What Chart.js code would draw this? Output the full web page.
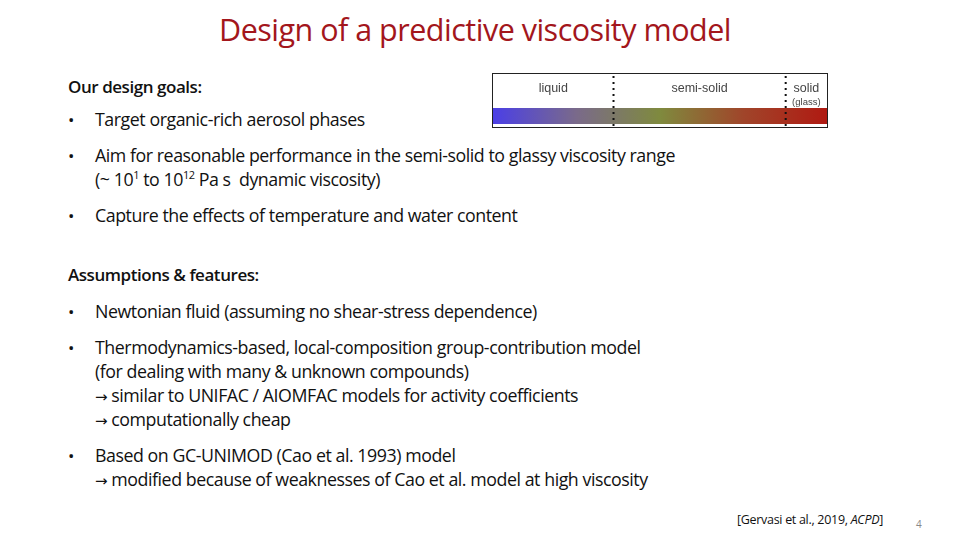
<!DOCTYPE html>
<html><head><meta charset="utf-8">
<script src="https://cdn.jsdelivr.net/npm/chart.js@4/dist/chart.umd.min.js"></script>
<style>
body{margin:0;width:960px;height:540px;background:#fff;font-family:"Open Sans",sans-serif;color:#111;position:relative;overflow:hidden}
.t{position:absolute;white-space:nowrap;font-size:17.8px;letter-spacing:-0.45px}
.b{position:absolute;left:68px;font-size:17px}
h1{position:absolute;left:0;width:950px;text-align:center;top:8px;margin:0;font-weight:400;font-size:30.5px;color:#a3161c;letter-spacing:-0.5px}
b{font-weight:600}
.ar{font-family:"DejaVu Sans",sans-serif;font-size:15px}
#box{position:absolute;left:492px;top:73px;width:336px;height:55px;border:1px solid #222;box-sizing:border-box}
</style></head><body>
<h1>Design of a predictive viscosity model</h1>
<div class="t" style="left:68px;top:75px;font-size:17px"><b>Our design goals:</b></div>
<div class="b" style="top:108px">•</div><div class="t" style="left:95px;top:107px">Target organic-rich aerosol phases</div>
<div class="b" style="top:144px">•</div><div class="t" style="left:95px;top:143px">Aim for reasonable performance in the semi-solid to glassy viscosity range</div>
<div class="t" style="left:95px;top:167px">(~ 10<sup style="font-size:11px">1</sup> to 10<sup style="font-size:11px">12</sup> Pa s&nbsp; dynamic viscosity)</div>
<div class="b" style="top:204px">•</div><div class="t" style="left:95px;top:203px">Capture the effects of temperature and water content</div>
<div class="t" style="left:68px;top:263px;font-size:17px"><b>Assumptions &amp; features:</b></div>
<div class="b" style="top:300px">•</div><div class="t" style="left:95px;top:299px">Newtonian fluid (assuming no shear-stress dependence)</div>
<div class="b" style="top:336px">•</div><div class="t" style="left:95px;top:335px">Thermodynamics-based, local-composition group-contribution model</div>
<div class="t" style="left:95px;top:359px">(for dealing with many &amp; unknown compounds)</div>
<div class="t" style="left:95px;top:383px"><span class="ar">→</span> similar to UNIFAC / AIOMFAC models for activity coefficients</div>
<div class="t" style="left:95px;top:407px"><span class="ar">→</span> computationally cheap</div>
<div class="b" style="top:444px">•</div><div class="t" style="left:95px;top:443px">Based on GC-UNIMOD (Cao et al. 1993) model</div>
<div class="t" style="left:95px;top:467px"><span class="ar">→</span> modified because of weaknesses of Cao et al. model at high viscosity</div>
<div class="t" style="left:737px;top:511px;font-size:12.5px;letter-spacing:-0.3px">[Gervasi et al., 2019, <i>ACPD</i>]</div>
<div class="t" style="left:916px;top:517px;font-size:10px;color:#888">4</div>
<div id="box"><canvas id="c" width="334" height="53"></canvas></div>
<script>
// log10 viscosity (Pa s) ranges
const phaseNames = ["liquid", "semi-solid", "solid"];
const phaseCenters = [-1.5, 7, 13.2];
const boundaries = [2, 12];
const barRange = [-5, 14.4];
const gradStops = ["#4b3fe6", "#7a6a8a", "#7f8a3e", "#a0452a", "#b01a12"];

const overlay = {
  id: "overlay",
  afterDatasetsDraw(chart) {
    const ctx = chart.ctx, x = chart.scales.x;
    ctx.save();
    ctx.fillStyle = "#444";
    ctx.font = "12.5px 'Liberation Sans', Arial";
    ctx.textAlign = "center";
    phaseNames.forEach((n, i) => ctx.fillText(n, x.getPixelForValue(phaseCenters[i]), 18));
    ctx.font = "9.5px 'Liberation Sans', Arial";
    ctx.fillText("(glass)", x.getPixelForValue(phaseCenters[2]), 31);
    ctx.strokeStyle = "#111";
    ctx.lineWidth = 2;
    ctx.setLineDash([2, 4]);
    boundaries.forEach(b => {
      const p = x.getPixelForValue(b);
      ctx.beginPath(); ctx.moveTo(p, 2); ctx.lineTo(p, 53); ctx.stroke();
    });
    ctx.restore();
  }
};

new Chart(document.getElementById("c"), {
  type: "bar",
  data: {
    labels: ["viscosity"],
    datasets: [{
      data: [barRange],
      barPercentage: 1, categoryPercentage: 1,
      backgroundColor: (c) => {
        const a = c.chart.chartArea;
        if (!a) return gradStops[0];
        const g = c.chart.ctx.createLinearGradient(a.left, 0, a.right, 0);
        gradStops.forEach((s, i) => g.addColorStop(i / (gradStops.length - 1), s));
        return g;
      }
    }]
  },
  options: {
    indexAxis: "y", responsive: false, animation: false,
    layout: { padding: { top: 34, bottom: 3, left: 0, right: 0 } },
    plugins: { legend: { display: false }, tooltip: { enabled: false } },
    scales: {
      x: { min: barRange[0], max: barRange[1], display: false },
      y: { display: false }
    }
  },
  plugins: [overlay]
});
</script>
</body></html>
